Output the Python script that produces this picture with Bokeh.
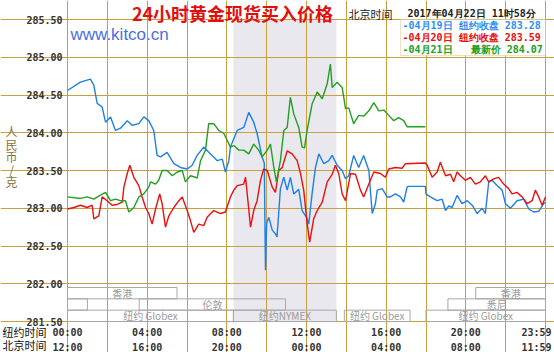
from bokeh.plotting import figure
from bokeh.models import (FixedTicker, LinearAxis, Range1d, Label, BoxAnnotation,
                          PrintfTickFormatter)
from bokeh.core.properties import value
from bokeh.embed import file_html
from bokeh.resources import INLINE

# ---------------- data (hours of New York time, price per gram) ----------------
BLUE_H = [0, 0.65, 1.15, 1.32, 1.49, 1.74, 1.91, 2.16, 2.41, 2.66, 3.0, 3.25, 3.58, 3.83,
          4.08, 4.33, 4.5, 4.67, 5.0, 5.34, 5.67, 6.01, 6.26, 6.51, 6.84, 7.18, 7.34, 7.52,
          7.77, 7.93, 8.10, 8.18, 8.52, 8.85, 9.10, 9.35, 9.52, 9.77, 9.88, 9.94, 10.0, 10.11,
          10.28, 10.44, 10.52, 10.69, 10.86, 11.03, 11.19, 11.36, 11.61, 11.78, 12.0, 12.11,
          12.28, 12.45, 12.62, 12.87, 13.12, 13.29, 13.54, 13.79, 13.96, 14.12, 14.37, 14.62,
          14.87, 15.13, 15.30, 15.46, 15.55, 15.80, 16.05, 16.21, 16.47, 16.72, 16.88, 17.05,
          17.12, 17.97, 18.0, 18.22, 18.56, 18.81, 18.98, 19.14, 19.31, 19.56, 19.81, 20.07,
          20.32, 20.57, 20.82, 20.98, 21.15, 21.32, 21.57, 21.82, 21.99, 22.24, 22.57, 22.91,
          23.16, 23.41, 23.66, 23.91, 24.0]
BLUE_V = [284.56, 284.67, 284.71, 284.63, 284.39, 284.34, 284.14, 284.21, 284.03, 284.06,
          284.16, 284.10, 284.12, 284.21, 284.16, 284.03, 283.70, 283.68, 283.74, 283.59,
          283.54, 283.52, 283.57, 283.70, 283.81, 283.72, 283.68, 283.63, 283.65, 283.48,
          283.63, 283.81, 284.03, 284.07, 284.27, 284.14, 283.99, 283.68, 283.60, 282.18,
          282.80, 282.88, 282.71, 282.66, 282.62, 283.26, 283.41, 283.24, 283.41, 283.19,
          283.25, 282.97, 282.88, 282.79, 283.19, 283.54, 283.72, 283.59, 283.63, 283.70,
          283.57, 283.50, 283.39, 283.43, 283.70, 283.54, 283.70, 283.50, 282.93, 283.06,
          283.24, 283.26, 283.15, 283.15, 283.19, 283.15, 283.08, 283.28, 283.29, 283.29,
          283.19, 283.15, 283.10, 283.12, 282.97, 283.03, 283.01, 283.17, 283.06, 283.10,
          283.04, 282.93, 283.00, 282.93, 283.35, 283.37, 283.30, 283.24, 283.06, 283.00,
          283.10, 283.12, 282.99, 282.95, 282.96, 283.06, 283.08]

RED_H = [0, 0.32, 0.65, 0.99, 1.24, 1.32, 1.57, 1.74, 1.99, 2.24, 2.49, 2.75, 2.83, 3.0,
         3.13, 3.33, 3.58, 3.75, 3.92, 4.08, 4.25, 4.42, 4.63, 4.75, 4.92, 5.09, 5.34, 5.59,
         5.76, 6.01, 6.17, 6.34, 6.59, 6.84, 7.01, 7.34, 7.68, 7.93, 8.18, 8.35, 8.52, 8.85,
         8.94, 9.19, 9.35, 9.52, 9.69, 9.85, 10.03, 10.28, 10.44, 10.61, 10.78, 11.03, 11.28,
         11.53, 11.70, 11.86, 12.03, 12.16, 12.36, 12.54, 12.79, 13.04, 13.29, 13.45, 13.62,
         13.79, 13.96, 14.21, 14.46, 14.71, 14.87, 15.13, 15.38, 15.71, 15.96, 16.13, 16.47,
         16.80, 16.97, 17.97, 18.06, 18.31, 18.56, 18.72, 18.98, 19.23, 19.39, 19.56, 19.73,
         19.98, 20.23, 20.48, 20.73, 20.98, 21.15, 21.40, 21.65, 21.90, 22.15, 22.32, 22.57,
         22.83, 23.08, 23.33, 23.49, 23.66, 23.83, 24.0]
RED_V = [282.99, 283.01, 283.04, 283.01, 283.04, 282.86, 282.90, 283.15, 283.10, 283.04,
         283.05, 283.08, 283.28, 283.46, 283.57, 283.41, 283.30, 283.15, 283.01, 282.93,
         282.79, 282.99, 283.19, 283.06, 282.75, 282.90, 283.01, 283.10, 283.15, 282.97,
         282.84, 282.68, 282.79, 282.77, 282.88, 282.97, 282.93, 282.95, 283.15, 283.24,
         283.30, 283.32, 283.41, 282.75, 282.97, 283.10, 283.37, 283.52, 283.50, 283.28,
         283.21, 283.50, 283.54, 283.76, 283.72, 283.63, 283.46, 283.24, 282.80, 282.55,
         282.86, 282.97, 283.08, 283.35, 283.45, 283.57, 283.46, 283.19, 283.10, 283.46,
         283.45, 283.24, 283.15, 283.32, 283.48, 283.46, 283.41, 283.52, 283.54, 283.53,
         283.59, 283.60, 283.57, 283.41, 283.48, 283.61, 283.43, 283.45, 283.35, 283.48,
         283.43, 283.37, 283.41, 283.32, 283.35, 283.43, 283.35, 283.39, 283.41, 283.32,
         283.26, 283.19, 283.21, 283.15, 283.06, 283.10, 283.24, 283.15, 283.04, 283.15]

GREEN_H = [0, 0.65, 0.99, 1.32, 1.57, 1.91, 2.16, 2.41, 2.66, 2.91, 3.08, 3.33, 3.58, 3.83,
           4.08, 4.17, 4.42, 4.58, 4.75, 5.0, 5.26, 5.51, 5.76, 5.92, 6.17, 6.43, 6.51, 6.68,
           6.93, 7.09, 7.34, 7.60, 7.85, 7.98, 8.18, 8.35, 8.60, 8.85, 9.10, 9.35, 9.60, 9.77,
           10.03, 10.19, 10.36, 10.49, 10.69, 10.86, 11.03, 11.19, 11.36, 11.61, 11.78, 11.90,
           12.03, 12.28, 12.54, 12.79, 13.04, 13.20, 13.29, 13.54, 13.79, 13.96, 14.12, 14.37,
           14.62, 14.87, 15.13, 15.38, 15.63, 15.88, 16.13, 16.38, 16.63, 16.88, 17.05, 17.97]
GREEN_V = [283.15, 283.13, 283.15, 283.12, 283.16, 283.21, 283.10, 283.12, 283.10, 283.10,
           282.95, 283.01, 283.15, 283.19, 283.28, 283.35, 283.32, 283.37, 283.50, 283.50,
           283.43, 283.48, 283.50, 283.35, 283.43, 283.41, 283.40, 283.63, 283.77, 284.12,
           284.12, 284.03, 283.99, 283.92, 283.81, 283.83, 283.77, 283.77, 283.72, 283.85,
           283.77, 283.68, 283.77, 283.85, 283.54, 283.35, 283.63, 284.03, 284.07, 284.47,
           284.25, 284.07, 283.81, 283.80, 284.03, 284.38, 284.54, 284.45, 284.65, 284.91,
           284.60, 284.67, 284.60, 284.32, 284.33, 284.12, 284.23, 284.22, 284.29, 284.40,
           284.29, 284.30, 284.23, 284.16, 284.20, 284.16, 284.08, 284.08]

SERIES_DATES = ["04月19日", "04月20日", "04月21日"]
SERIES_KIND = ["纽约收盘", "纽约收盘", "最新价"]
SERIES_LAST = [283.28, 283.59, 284.07]

Y_TICKS = [281.5, 282.0, 282.5, 283.0, 283.5, 284.0, 284.5, 285.0, 285.5]
GRID_HOURS = [0, 2, 4, 6, 8, 10, 12, 14, 16, 18, 20, 22, 24]
TICK_HOURS = [0, 4, 8, 12, 16, 20, 23.55]
NY_LABELS = ["00:00", "04:00", "08:00", "12:00", "16:00", "20:00", "23:59"]
BJ_LABELS = ["12:00", "16:00", "20:00", "00:00", "04:00", "08:00", "11:59"]

SESS_NAME = ["香港", "香港", "", "伦敦", "悉尼", "纽约 Globex", "纽约NYMEX", "纽约 Globex", "纽约 Globex"]
SESS_START = [0, 20.5, 0, 3.6, 19.1, 0, 8.33, 13.9, 18.0]
SESS_END = [5.5, 24, 1.0, 10.95, 24, 8.33, 13.5, 17.2, 24]
SESS_ROW = [2, 2, 1, 1, 1, 0, 0, 0, 0]
NYMEX_START, NYMEX_END = 8.33, 13.5

# ---------------- styling / layout ----------------
GOLD = "#C8A040"
BLUE = "#1F7FE6"
RED = "#E81010"
GREEN = "#20A020"
MONO = "DejaVu Sans Mono"
CJK = "Noto Sans CJK SC"

X0, X1 = 0, 24            # chart time span
Y0, Y1 = 281.5, 285.5     # chart price span
W, H = 554, 352
PX_L, PX_R, PX_T, PX_B = 67, 545, 19, 321   # chart box on the canvas
sx = (PX_R - PX_L) / (X1 - X0)
sy = (PX_B - PX_T) / (Y1 - Y0)
x_range = Range1d(X0 - PX_L / sx, X1 + (W - PX_R) / sx)
y_range = Range1d(Y0 - (H - PX_B) / sy, Y1 + PX_T / sy)

p = figure(width=W, height=H, x_range=x_range, y_range=y_range,
           output_backend="svg", toolbar_location=None,
           min_border_left=0, min_border_right=0, min_border_top=0, min_border_bottom=0,
           outline_line_color=None,
           background_fill_color="white", border_fill_color="white")

# NYMEX shading (under grid)
p.add_layout(BoxAnnotation(left=NYMEX_START, right=NYMEX_END, bottom=Y0, top=Y1,
                           fill_color="#E8E8EE", fill_alpha=1, line_color=None, level="image"))

p.xgrid.ticker = FixedTicker(ticks=GRID_HOURS)
p.xgrid.bounds = (Y0, Y1)
p.ygrid.ticker = FixedTicker(ticks=Y_TICKS)
p.ygrid.bounds = (X0, X1)
p.grid.grid_line_color = GOLD
p.grid.grid_line_width = 1

# y axis
ya = p.yaxis[0]
ya.ticker = FixedTicker(ticks=Y_TICKS)
ya.formatter = PrintfTickFormatter(format="%.2f")
ya.fixed_location = X0

# x axes
nya = p.xaxis[0]
nya.ticker = FixedTicker(ticks=TICK_HOURS)
nya.major_label_overrides = {h: s for h, s in zip(TICK_HOURS, NY_LABELS)}
nya.fixed_location = Y0
bja = LinearAxis(ticker=FixedTicker(ticks=TICK_HOURS),
                 major_label_overrides={h: s for h, s in zip(TICK_HOURS, BJ_LABELS)},
                 fixed_location=Y0)
p.add_layout(bja, "below")

for ax in [ya, nya, bja]:
    ax.axis_line_color = None
    ax.major_tick_line_color = None
    ax.minor_tick_line_color = None
    ax.major_tick_out = 0
    ax.major_tick_in = 0
    ax.major_label_text_font = MONO
    ax.major_label_text_font_style = "bold"
    ax.major_label_text_font_size = "10px"
    ax.major_label_text_color = "#333333"
ya.major_label_standoff = 5
nya.major_label_standoff = 5
bja.major_label_standoff = 20

# market sessions
ROW_H = 0.15
sb = [Y0 + r * ROW_H for r in SESS_ROW]
st = [Y0 + (r + 1) * ROW_H for r in SESS_ROW]
p.quad(left=SESS_START, right=SESS_END, bottom=sb, top=st, fill_color=None,
       line_color="#A8A8A8", line_width=1)
p.text(x=[(a + b) / 2 for a, b in zip(SESS_START, SESS_END)],
       y=[(a + b) / 2 for a, b in zip(sb, st)], text=SESS_NAME,
       text_align="center", text_baseline="middle", text_font=value(CJK),
       text_font_size="10px", text_color="#9A9A9A")

# price lines
p.line(BLUE_H, BLUE_V, line_color=BLUE, line_width=1.4)
p.line(RED_H, RED_V, line_color=RED, line_width=1.4)
p.line(GREEN_H, GREEN_V, line_color=GREEN, line_width=1.4)


def lab(px, py, text, size, color, font, style="normal", align="left"):
    """place a text at canvas pixel position (px, py from top-left)"""
    p.add_layout(Label(x=X0 + (px - PX_L) / sx, y=Y1 - (py - PX_T) / sy, text=text,
                       text_font_size=size, text_color=color, text_font=font,
                       text_font_style=style, text_align=align, text_baseline="middle"))


# legend box
p.add_layout(BoxAnnotation(left=X0 + (400 - PX_L) / sx, right=X1,
                           bottom=Y1 - (55 - PX_T) / sy, top=Y1,
                           fill_color="white", fill_alpha=1, line_color=GOLD, line_width=1))
LEG_COLORS = ["#2F8FF0", "#E81010", "#20A020"]
LEG_PY = [25, 37, 49]
for d, k, v, c, yy in zip(SERIES_DATES, SERIES_KIND, SERIES_LAST, LEG_COLORS, LEG_PY):
    kk = k if len(k) == 4 else "\u00a0\u00a0" + k
    lab(402, yy, f"-{d} {kk} {v:.2f}", "10px", c, MONO, "bold")

# header texts
lab(232, 12, "24小时黄金现货买入价格", "18px", "#E01010", CJK, "bold", "center")
lab(348, 13, "北京时间", "11px", "#222222", CJK)
lab(407, 13, "2017年04月22日 11时58分", "10px", "#222222", MONO, "bold")
lab(70, 34, "www.kitco.cn", "17px", "#4A70E0", "Liberation Sans")

# vertical y-axis title
for i, ch in enumerate("人民币/克"):
    lab(11, 131 + i * 12.5, ch, "12px", "#857545", CJK, "normal", "center")

# time-zone labels
lab(2, 331, "纽约时间", "11px", "#111111", CJK)
lab(2, 344.5, "北京时间", "11px", "#111111", CJK)

open("out.html", "w").write(file_html(p, INLINE))
